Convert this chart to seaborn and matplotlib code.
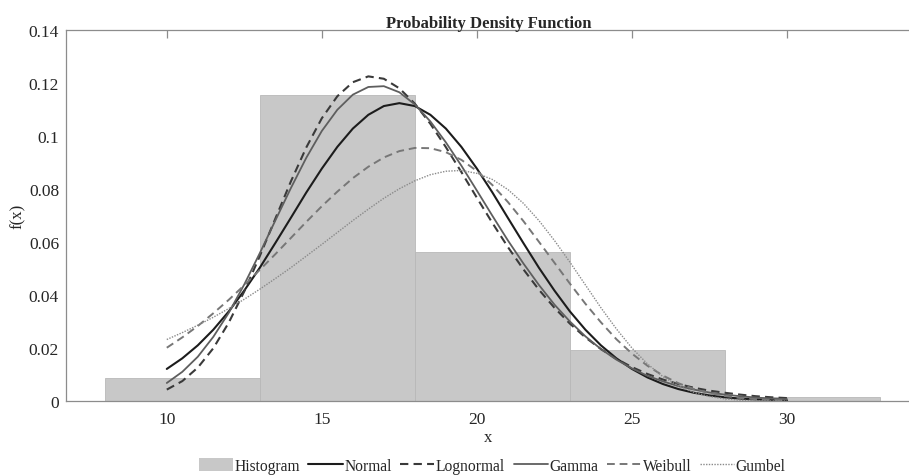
import numpy as np
import pandas as pd
import matplotlib
matplotlib.use('Agg')
import matplotlib.pyplot as plt
import seaborn as sns
from matplotlib.patches import Patch
from matplotlib.lines import Line2D

# Histogram bins
bin_edges = [8, 13, 18, 23, 28, 33]
bin_centers = [10.5, 15.5, 20.5, 25.5, 30.5]
hist_heights = [0.0086, 0.1155, 0.0561, 0.0192, 0.0014]

# x positions where the fitted curves were read
x_pts = [10, 10.5, 11, 11.5, 12, 12.5, 13, 13.5, 14, 14.5, 15, 15.5, 16, 16.5,
         17, 17.5, 18, 18.5, 19, 19.5, 20, 20.5, 21, 21.5, 22, 22.5, 23, 23.5,
         24, 24.5, 25, 25.5, 26, 26.5, 27, 27.5, 28, 28.5, 29, 29.5, 30]

normal_pdf = [0.0121, 0.0161, 0.0210, 0.0269, 0.0338, 0.0417, 0.0503, 0.0596,
              0.0691, 0.0787, 0.0877, 0.0959, 0.1028, 0.1080, 0.1113, 0.1124,
              0.1113, 0.1080, 0.1028, 0.0959, 0.0877, 0.0787, 0.0691, 0.0596,
              0.0503, 0.0417, 0.0338, 0.0269, 0.0210, 0.0161, 0.0121, 0.0089,
              0.0064, 0.0045, 0.0031, 0.0021, 0.0014, 0.0009, 0.0006, 0.0004,
              0.0002]

lognormal_pdf = [0.0043, 0.0075, 0.0126, 0.0199, 0.0296, 0.0414, 0.0547, 0.0688,
                 0.0828, 0.0957, 0.1067, 0.1150, 0.1203, 0.1225, 0.1216, 0.1180,
                 0.1122, 0.1046, 0.0958, 0.0864, 0.0767, 0.0672, 0.0581, 0.0497,
                 0.0420, 0.0352, 0.0292, 0.0240, 0.0196, 0.0159, 0.0128, 0.0102,
                 0.0081, 0.0064, 0.0050, 0.0039, 0.0031, 0.0024, 0.0018, 0.0014,
                 0.0011]

gamma_pdf = [0.0068, 0.0110, 0.0167, 0.0242, 0.0333, 0.0440, 0.0558, 0.0681,
             0.0803, 0.0918, 0.1019, 0.1099, 0.1156, 0.1185, 0.1188, 0.1165,
             0.1119, 0.1055, 0.0976, 0.0888, 0.0794, 0.0699, 0.0606, 0.0519,
             0.0438, 0.0364, 0.0300, 0.0244, 0.0196, 0.0156, 0.0123, 0.0095,
             0.0074, 0.0056, 0.0043, 0.0032, 0.0024, 0.0018, 0.0013, 0.0009,
             0.0007]

weibull_pdf = [0.0201, 0.0240, 0.0283, 0.0331, 0.0382, 0.0437, 0.0495, 0.0554,
               0.0615, 0.0676, 0.0735, 0.0790, 0.0841, 0.0884, 0.0919, 0.0943,
               0.0955, 0.0954, 0.0939, 0.0910, 0.0868, 0.0815, 0.0751, 0.0679,
               0.0601, 0.0522, 0.0443, 0.0367, 0.0297, 0.0233, 0.0179, 0.0133,
               0.0096, 0.0067, 0.0045, 0.0030, 0.0019, 0.0011, 0.0007, 0.0004,
               0.0002]

gumbel_pdf = [0.0232, 0.0258, 0.0286, 0.0316, 0.0349, 0.0384, 0.0422, 0.0462,
              0.0503, 0.0547, 0.0591, 0.0636, 0.0681, 0.0724, 0.0765, 0.0801,
              0.0831, 0.0854, 0.0867, 0.0870, 0.0859, 0.0836, 0.0798, 0.0746,
              0.0681, 0.0606, 0.0524, 0.0438, 0.0352, 0.0272, 0.0200, 0.0140,
              0.0092, 0.0057, 0.0032, 0.0017, 0.0008, 0.0003, 0.0001, 0.0000,
              0.0000]

y_ticks = [0, 0.02, 0.04, 0.06, 0.08, 0.1, 0.12, 0.14]
y_tick_labels = ['0', '0.02', '0.04', '0.06', '0.08', '0.1', '0.12', '0.14']
x_ticks = [10, 15, 20, 25, 30]

sns.set_style('white')
plt.rcParams['font.family'] = ['Liberation Serif', 'DejaVu Serif']

fig = plt.figure(figsize=(9.09, 4.77), dpi=100)
ax = fig.add_axes([66 / 909, 75 / 477, 845 / 909, 371 / 477])

hist_color = '#c8c8c8'
sns.histplot(x=bin_centers, weights=hist_heights, bins=bin_edges, stat='count',
             color=hist_color, alpha=1.0, edgecolor='#b8b8b8', linewidth=0.6, ax=ax)

# Fitted curves
curve_df = pd.DataFrame({'x': x_pts, 'Normal': normal_pdf, 'Lognormal': lognormal_pdf,
                         'Gamma': gamma_pdf, 'Weibull': weibull_pdf, 'Gumbel': gumbel_pdf})

styles = {
    'Normal': dict(color='#1c1c1c', lw=1.5, ls='-'),
    'Lognormal': dict(color='#3a3a3a', lw=1.5, ls=(0, (4, 2.5))),
    'Gamma': dict(color='#5e5e5e', lw=1.3, ls='-'),
    'Weibull': dict(color='#777777', lw=1.4, ls=(0, (4, 2.5))),
    'Gumbel': dict(color='#8a8a8a', lw=1.0, ls=(0, (1, 1))),
}
for name, st in styles.items():
    sns.lineplot(data=curve_df, x='x', y=name, color=st['color'], linewidth=st['lw'],
                 linestyle=st['ls'], ax=ax)

ax.set_xlim(6.75, 34.0)
ax.set_ylim(0, 0.14)
ax.set_xticks(x_ticks)
ax.set_xticklabels([str(t) for t in x_ticks])
ax.set_yticks(y_ticks)
ax.set_yticklabels(y_tick_labels)

for s in ['left', 'top', 'bottom', 'right']:
    ax.spines[s].set_color('#8c8c8c')
    ax.spines[s].set_linewidth(0.9)
ax.tick_params(axis='both', direction='in', length=6, width=0.9, color='#8c8c8c',
               labelsize=12.5, labelcolor='#262626', top=True, right=False)
ax.tick_params(axis='x', pad=7)
ax.tick_params(axis='y', pad=5)

ax.set_title('Probability Density Function', fontsize=12, fontweight='bold', pad=2)
ax.set_xlabel('x', fontsize=12, labelpad=2, color='#262626')
ax.set_ylabel('f(x)', fontsize=12, labelpad=2, color='#262626')

handles = [Patch(facecolor=hist_color, edgecolor='none', label='Histogram')]
for name, st in styles.items():
    handles.append(Line2D([0], [0], color=st['color'], lw=st['lw'], ls=st['ls'], label=name))
fig.legend(handles=handles, loc='center', bbox_to_anchor=(492 / 909, 1 - 467 / 477),
           ncol=6, frameon=False, fontsize=11.2, handlelength=2.2, handleheight=0.9,
           handletextpad=0.1, columnspacing=0.55)

fig.savefig('out.png', dpi=100)
